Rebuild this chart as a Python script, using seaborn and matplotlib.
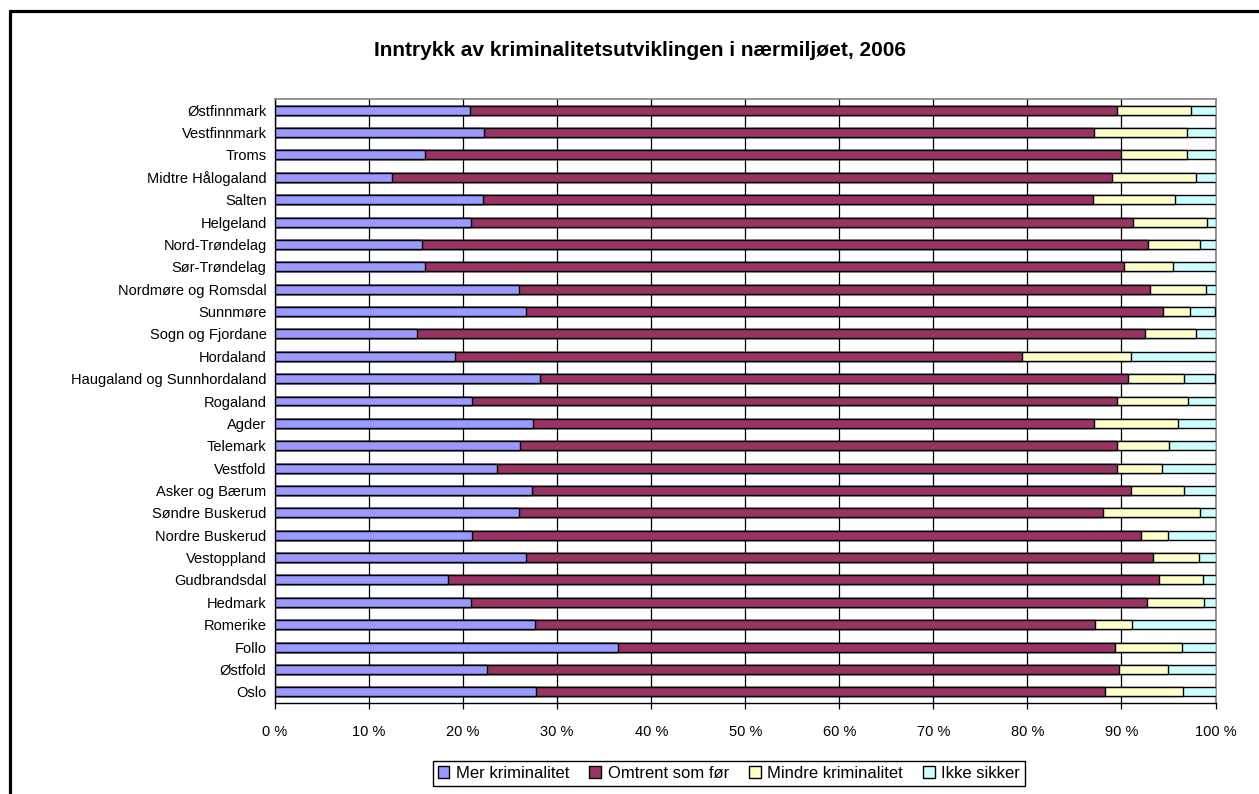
import numpy as np
import pandas as pd
import matplotlib
matplotlib.use("Agg")
import matplotlib.pyplot as plt
import seaborn as sns
from matplotlib.patches import Patch
from matplotlib.lines import Line2D
from matplotlib.ticker import FixedLocator, FuncFormatter

regions = ["Østfinnmark", "Vestfinnmark", "Troms", "Midtre Hålogaland", "Salten",
           "Helgeland", "Nord-Trøndelag", "Sør-Trøndelag", "Nordmøre og Romsdal",
           "Sunnmøre", "Sogn og Fjordane", "Hordaland", "Haugaland og Sunnhordaland",
           "Rogaland", "Agder", "Telemark", "Vestfold", "Asker og Bærum",
           "Søndre Buskerud", "Nordre Buskerud", "Vestoppland", "Gudbrandsdal",
           "Hedmark", "Romerike", "Follo", "Østfold", "Oslo"]

mer = [20.7, 22.2, 15.9, 12.4, 22.1, 20.8, 15.6, 16.0, 25.9, 26.7, 15.1, 19.1, 28.2,
       20.9, 27.4, 26.0, 23.6, 27.3, 25.9, 20.9, 26.7, 18.4, 20.8, 27.6, 36.5, 22.5, 27.8]
omtrent = [68.8, 64.9, 74.1, 76.6, 64.9, 70.4, 77.2, 74.3, 67.1, 67.7, 77.4, 60.3, 62.5,
           68.6, 59.7, 63.5, 65.9, 63.7, 62.1, 71.2, 66.7, 75.6, 71.9, 59.6, 52.8, 67.2, 60.4]
mindre = [7.9, 9.9, 7.0, 8.9, 8.7, 7.9, 5.5, 5.2, 6.0, 2.9, 5.4, 11.6, 6.0,
          7.6, 8.9, 5.6, 4.8, 5.6, 10.4, 2.9, 4.8, 4.7, 6.1, 3.9, 7.1, 5.3, 8.3]
ikke = [2.6, 3.0, 3.0, 2.1, 4.3, 0.9, 1.7, 4.5, 1.0, 2.7, 2.1, 9.0, 3.3,
        2.9, 4.0, 4.9, 5.7, 3.4, 1.6, 5.0, 1.8, 1.3, 1.2, 8.9, 3.6, 5.0, 3.5]

series_names = ["Mer kriminalitet", "Omtrent som før", "Mindre kriminalitet", "Ikke sikker"]
colors = ["#9999FF", "#993366", "#FFFFCC", "#CCFFFF"]
xticks = [0, 10, 20, 30, 40, 50, 60, 70, 80, 90, 100]
title = "Inntrykk av kriminalitetsutviklingen i nærmiljøet, 2006"

sns.set_theme(style="white")
plt.rcParams["font.family"] = ["Liberation Sans", "DejaVu Sans"]
plt.rcParams["text.color"] = "black"
plt.rcParams["xtick.color"] = "black"
plt.rcParams["ytick.color"] = "black"
plt.rcParams["axes.labelcolor"] = "black"

vals = np.array([mer, omtrent, mindre, ikke], dtype=float)
vals = vals / vals.sum(axis=0) * 100.0
cum = np.cumsum(vals, axis=0)

fig = plt.figure(figsize=(12.59, 7.94), dpi=100)
ax = fig.add_axes([275 / 1259, 1 - 703 / 794, (1215.5 - 275) / 1259, (703 - 99) / 794])

# draw from the full stack down so each shorter cumulative bar sits on top
for i in range(3, -1, -1):
    df = pd.DataFrame({"region": regions, "value": cum[i]})
    sns.barplot(data=df, x="value", y="region", orient="h", color=colors[i],
                saturation=1, width=0.4, edgecolor="black", linewidth=1.0,
                ax=ax, zorder=3)

ax.set_xlim(0, 100)
ax.set_ylim(len(regions) - 0.5, -0.5)
ax.set_xlabel("")
ax.set_ylabel("")
ax.xaxis.set_major_locator(FixedLocator(xticks))
ax.xaxis.set_major_formatter(FuncFormatter(lambda v, p: f"{int(round(v))} %"))
ax.grid(False)
ax.xaxis.grid(True, color="black", linewidth=0.9)
ax.set_axisbelow(True)
for g in ax.get_xgridlines():
    g.set_zorder(1)

ax.tick_params(axis="x", which="major", direction="out", length=4.5, width=0.9,
               color="black", labelcolor="black", labelsize=10.5, pad=11.5, bottom=True)
ax.tick_params(axis="y", length=0, labelsize=10.5, labelcolor="black", pad=6)

for side in ["top", "right"]:
    ax.spines[side].set_color("#808080")
    ax.spines[side].set_linewidth(1.2)
for side in ["left", "bottom"]:
    ax.spines[side].set_color("black")
    ax.spines[side].set_linewidth(1.0)

fig.text(640 / 1259, 1 - 50 / 794, title, ha="center", va="center",
         fontsize=15, fontweight="bold", color="black")

handles = [Patch(facecolor=c, edgecolor="black", linewidth=1.0) for c in colors]
leg = fig.legend(handles, series_names, loc="center", bbox_to_anchor=(729 / 1259, 1 - 773.5 / 794),
                 ncol=4, fontsize=12, frameon=True, fancybox=False, framealpha=1,
                 edgecolor="black", handlelength=0.7, handleheight=0.7, handletextpad=0.4,
                 columnspacing=1.2, borderpad=0.3)
leg.get_frame().set_linewidth(1.0)
for t in leg.get_texts():
    t.set_color("black")

# outer chart-area frame (only top and left edges visible in the crop)
fig.add_artist(Line2D([10.5 / 1259, 1.0], [1 - 10.5 / 794, 1 - 10.5 / 794],
                      transform=fig.transFigure, color="black", linewidth=2.3))
fig.add_artist(Line2D([10.5 / 1259, 10.5 / 1259], [1 - 10.5 / 794, 0.0],
                      transform=fig.transFigure, color="black", linewidth=2.3))

fig.savefig("out.png", dpi=100, facecolor="white")
